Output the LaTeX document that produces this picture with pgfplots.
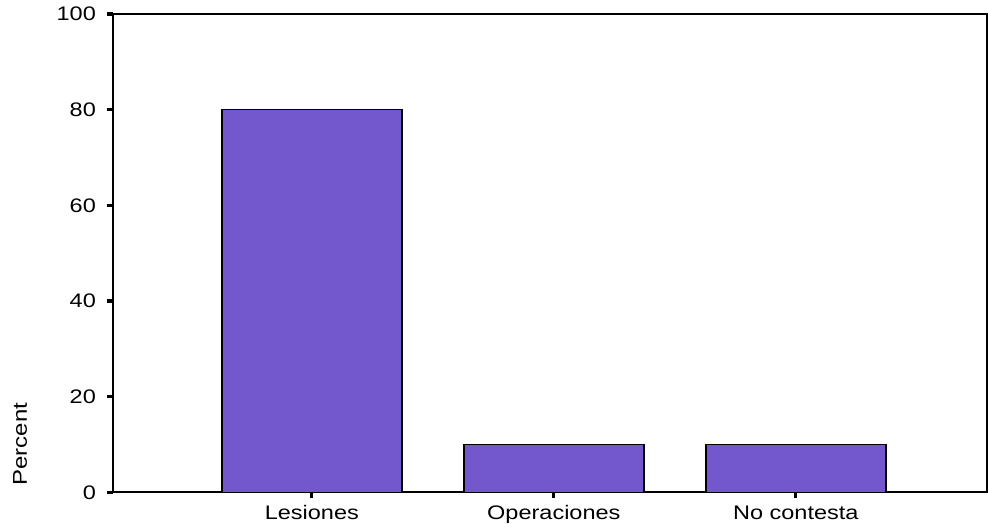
\documentclass[border=0pt]{standalone}
\usepackage{fontspec}
\setmainfont[FakeStretch=1.2]{Liberation Sans}
\usepackage{pgfplots}
\pgfplotsset{compat=1.18}
\definecolor{barpurple}{RGB}{114,88,204}

\begin{document}
\begin{tikzpicture}
\begin{axis}[
    scale only axis,
    width=437.5pt,
    height=239.5pt,
    ybar,
    bar width=90pt,
    xmin=-0.822, xmax=2.79,
    ymin=0, ymax=100,
    xtick={0,1,2},
    xticklabels={Lesiones,Operaciones,No contesta},
    ytick={0,20,...,100},
    xtick pos=bottom, ytick pos=left,
    tick align=outside,
    major tick length=3pt,
    tick style={black, line width=1.6pt},
    axis line style={line width=1pt},
    /pgf/number format/assume math mode=true,
    ticklabel style={font=\fontsize{9.8}{11}\selectfont},
    xticklabel style={text height=7pt, text depth=2pt},
    yticklabel style={xshift=-2pt},
]
\addplot[fill=barpurple, draw=black, line width=0.8pt]
    coordinates {(0,80) (1,10) (2,10)};
\end{axis}
\node[rotate=90, anchor=west, font=\fontsize{10}{11}\selectfont]
    at ([xshift=-46.5pt]current axis.south west) {Percent};
\path ([xshift=-56.5pt,yshift=-17.5pt]current axis.south west)
      ([yshift=7pt]current axis.north east);
\end{tikzpicture}
\end{document}
